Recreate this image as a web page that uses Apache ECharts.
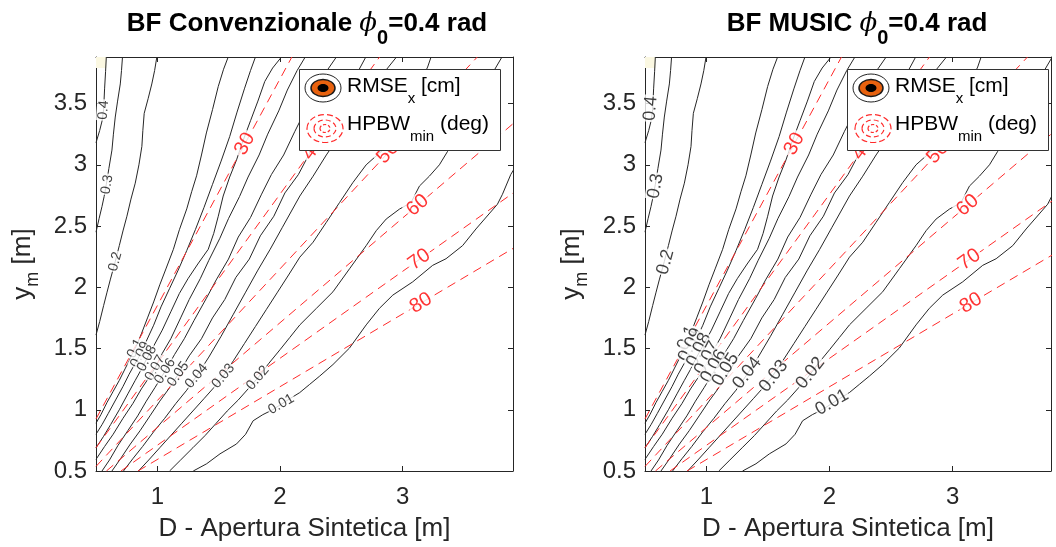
<!DOCTYPE html>
<html>
<head>
<meta charset="UTF-8">
<script src="https://cdn.jsdelivr.net/npm/echarts@6.0.0/dist/echarts.min.js"></script>
<style>
  html, body { margin: 0; padding: 0; background: #fff; }
  #main { width: 1056px; height: 547px; }
</style>
<title>BF vs MUSIC</title>
</head>
<body>
<div id="main"></div>
<script type="text/javascript">
// RMSE_x contour lines [D, y_m] (same field in both panels)
var c040 = [[0.584,3.88],[0.578,3.76],[0.570,3.62],[0.562,3.45],[0.550,3.36],[0.530,3.28],[0.5,3.18]];
var c030 = [[0.716,3.88],[0.708,3.77],[0.698,3.66],[0.676,3.52],[0.657,3.39],[0.642,3.25],[0.63,3.12],[0.605,2.97],[0.584,2.84],[0.566,2.74],[0.549,2.66],[0.525,2.56],[0.5,2.45]];
var c020 = [[0.996,3.88],[0.978,3.77],[0.955,3.66],[0.925,3.54],[0.893,3.42],[0.882,3.28],[0.874,3.15],[0.85,3.0],[0.82,2.85],[0.785,2.72],[0.752,2.58],[0.72,2.46],[0.69,2.34],[0.657,2.21],[0.616,2.06],[0.59,1.96],[0.562,1.85],[0.53,1.72],[0.5,1.61]];
var c010 = [[0.5,0.89],[0.54,0.96],[0.59,1.06],[0.64,1.15],[0.69,1.24],[0.74,1.34],[0.78,1.42],[0.82,1.50],[0.87,1.62],[0.92,1.75],[0.97,1.88],[1.02,2.02],[1.07,2.15],[1.131,2.31],[1.18,2.47],[1.24,2.64],[1.28,2.78],[1.32,2.91],[1.36,3.08],[1.40,3.26],[1.45,3.45],[1.497,3.64],[1.54,3.78],[1.578,3.88]];
var c009 = [[0.5,0.80],[0.55,0.88],[0.60,0.97],[0.66,1.08],[0.72,1.19],[0.77,1.29],[0.82,1.38],[0.86,1.45],[0.91,1.56],[0.97,1.69],[1.03,1.84],[1.10,1.99],[1.17,2.14],[1.24,2.30],[1.31,2.47],[1.38,2.65],[1.45,2.84],[1.52,3.03],[1.59,3.23],[1.65,3.43],[1.71,3.62],[1.76,3.77],[1.80,3.88]];
var c008 = [[0.5,0.69],[0.56,0.78],[0.62,0.88],[0.69,1.00],[0.76,1.13],[0.82,1.24],[0.87,1.33],[0.915,1.42],[0.97,1.52],[1.04,1.65],[1.11,1.80],[1.18,1.95],[1.25,2.07],[1.33,2.19],[1.415,2.31],[1.46,2.44],[1.497,2.58],[1.537,2.745],[1.59,2.90],[1.646,3.04],[1.70,3.20],[1.76,3.36],[1.82,3.52],[1.876,3.68],[1.94,3.79],[2.012,3.88]];
var c007 = [[0.5,0.595],[0.57,0.70],[0.64,0.80],[0.72,0.93],[0.80,1.05],[0.87,1.17],[0.93,1.26],[0.982,1.34],[1.04,1.46],[1.11,1.58],[1.19,1.75],[1.26,1.90],[1.35,2.07],[1.42,2.22],[1.51,2.40],[1.58,2.56],[1.67,2.74],[1.74,2.90],[1.83,3.08],[1.90,3.25],[1.99,3.44],[2.06,3.61],[2.14,3.77],[2.206,3.88]];
var c006 = [[0.549,0.5],[0.61,0.59],[0.68,0.71],[0.76,0.83],[0.84,0.95],[0.91,1.07],[0.98,1.18],[1.063,1.315],[1.14,1.45],[1.22,1.58],[1.30,1.73],[1.40,1.91],[1.48,2.06],[1.58,2.23],[1.66,2.41],[1.76,2.57],[1.85,2.76],[1.93,2.92],[2.03,3.08],[2.12,3.27],[2.20,3.43],[2.30,3.59],[2.37,3.75],[2.46,3.88]];
var c005 = [[0.63,0.5],[0.70,0.60],[0.78,0.72],[0.86,0.83],[0.94,0.95],[1.02,1.07],[1.10,1.18],[1.17,1.29],[1.26,1.44],[1.36,1.58],[1.45,1.75],[1.55,1.90],[1.64,2.08],[1.75,2.23],[1.84,2.42],[1.95,2.58],[2.04,2.77],[2.15,2.92],[2.25,3.11],[2.34,3.28],[2.45,3.45],[2.54,3.63],[2.63,3.75],[2.70,3.88]];
var c004 = [[0.724,0.5],[0.80,0.60],[0.88,0.70],[0.97,0.82],[1.06,0.93],[1.15,1.05],[1.24,1.16],[1.32,1.275],[1.42,1.43],[1.52,1.60],[1.62,1.78],[1.72,1.96],[1.82,2.14],[1.92,2.31],[2.02,2.49],[2.162,2.745],[2.27,2.907],[2.378,3.08],[2.48,3.23],[2.58,3.38],[2.68,3.52],[2.78,3.66],[2.87,3.78],[2.95,3.88]];
var c003 = [[0.846,0.5],[0.93,0.59],[1.02,0.69],[1.11,0.79],[1.20,0.89],[1.29,0.99],[1.38,1.09],[1.46,1.18],[1.537,1.275],[1.62,1.40],[1.71,1.54],[1.80,1.68],[1.89,1.82],[1.98,1.96],[2.07,2.10],[2.162,2.246],[2.27,2.368],[2.378,2.53],[2.486,2.692],[2.594,2.854],[2.703,3.0],[2.838,3.12],[2.94,3.29],[3.04,3.47],[3.13,3.64],[3.204,3.798],[3.232,3.88]];
var c002 = [[1.10,0.5],[1.19,0.59],[1.29,0.69],[1.39,0.79],[1.48,0.89],[1.57,0.99],[1.66,1.08],[1.74,1.17],[1.82,1.26],[1.91,1.38],[2.0,1.49],[2.08,1.59],[2.162,1.693],[2.297,1.828],[2.432,1.963],[2.568,2.152],[2.703,2.34],[2.785,2.462],[2.866,2.557],[2.974,2.638],[3.069,2.692],[3.137,2.826],[3.218,2.907],[3.30,3.0],[3.367,3.11],[3.47,3.29],[3.57,3.47],[3.66,3.63],[3.74,3.76],[3.81,3.88]];
var c001 = [[1.293,0.5],[1.402,0.559],[1.511,0.64],[1.646,0.721],[1.72,0.80],[1.781,0.91],[1.86,0.96],[1.94,1.00],[2.01,1.045],[2.08,1.09],[2.161,1.14],[2.242,1.207],[2.324,1.275],[2.432,1.369],[2.567,1.504],[2.703,1.693],[2.811,1.828],[2.92,1.936],[3.082,2.044],[3.245,2.179],[3.354,2.233],[3.489,2.34],[3.598,2.476],[3.773,2.678],[3.814,2.759],[3.882,2.921],[3.93,3.0]];

var contourLevels = ['0.4','0.3','0.2','0.1','0.09','0.08','0.07','0.06','0.05','0.04','0.03','0.02','0.01'];
var contourLines = [c040, c030, c020, c010, c009, c008, c007, c006, c005, c004, c003, c002, c001];

// inline label anchors for each level
var bfLabelPos = [[0.562,3.447],[0.59,2.84],[0.657,2.21],[0.82,1.50],[0.86,1.45],[0.915,1.42],[0.982,1.34],[1.063,1.315],[1.17,1.29],[1.32,1.275],[1.537,1.275],[1.82,1.26],[2.01,1.045]];
var bfLabelRot = [85,80,75,62,62,62,60,58,55,50,50,50,30];
var musicLabelPos = [[0.545,3.46],[0.586,2.826],[0.667,2.206],[0.843,1.585],[0.87,1.53],[0.937,1.49],[1.005,1.423],[1.059,1.356],[1.154,1.328],[1.33,1.30],[1.546,1.275],[1.844,1.30],[2.02,1.059]];
var musicLabelRot = [85,80,75,65,65,65,62,60,58,52,52,52,30];

// HPBW_min iso-lines (deg): straight lines, end points on the frame
var hpbwLevels = ['30','40','50','60','70','80'];
var hpbwEnds = [
  [[0.5,0.925],[2.097,3.88]],
  [[0.5,0.69],[2.812,3.88]],
  [[0.5,0.5375],[3.609,3.88]],
  [[0.585,0.5],[3.9,3.335]],
  [[0.704,0.5],[3.9,2.769]],
  [[0.842,0.5],[3.9,2.317]]
];
var hpbwLabelPos = [[1.714,3.17],[2.27,3.13],[2.88,3.10],[3.123,2.67],[3.137,2.227],[3.15,1.871]];
var hpbwLabelRot = [61.6,54,47,40.5,35.4,30.7];

var xTicks = [1, 2, 3];
var yTicks = [0.5, 1, 1.5, 2, 2.5, 3, 3.5];

var FONT = '"Liberation Sans", Arial, Helvetica, sans-serif';
var INK = '#262626';
var RED = '#ff2a2a';

var panels = [
  { grid: {left: 96, top: 57, width: 417, height: 417}, xMax: 3.9, title: 'BF Convenzionale ', tx: 307, labels: bfLabelPos, rot: bfLabelRot, lsize: 14, legendX: 299 },
  { grid: {left: 645, top: 57, width: 406, height: 417}, xMax: 3.8, title: 'BF MUSIC ', tx: 857, labels: musicLabelPos, rot: musicLabelRot, lsize: 18, legendX: 847 }
];

var grids = [], xAxes = [], yAxes = [], series = [], graphics = [];

panels.forEach(function (p, k) {
  grids.push(p.grid);
  var tickStyle = { show: true, inside: true, length: 5, lineStyle: { color: INK, width: 1 } };
  var lineStyleAx = { show: true, onZero: false, lineStyle: { color: INK, width: 1 } };
  xAxes.push({
    type: 'value', gridIndex: k, min: 0.5, max: p.xMax, position: 'bottom',
    axisLine: lineStyleAx,
    axisTick: Object.assign({ customValues: xTicks }, tickStyle),
    axisLabel: { customValues: xTicks, color: INK, fontSize: 24, fontFamily: FONT, margin: 14 },
    splitLine: { show: false },
    name: 'D - Apertura Sintetica [m]', nameLocation: 'middle', nameGap: 45,
    nameTextStyle: { color: INK, fontSize: 26, fontFamily: FONT }
  });
  xAxes.push({
    type: 'value', gridIndex: k, min: 0.5, max: p.xMax, position: 'top',
    axisLine: lineStyleAx,
    axisTick: Object.assign({ customValues: xTicks }, tickStyle),
    axisLabel: { show: false }, splitLine: { show: false }
  });
  yAxes.push({
    type: 'value', gridIndex: k, min: 0.5, max: 3.88, position: 'left',
    axisLine: lineStyleAx,
    axisTick: Object.assign({ customValues: yTicks }, tickStyle),
    axisLabel: { customValues: yTicks, color: INK, fontSize: 24, fontFamily: FONT, margin: 9 },
    splitLine: { show: false },
    name: '{n|y}{s|m}{n| [m]}', nameLocation: 'middle', nameGap: 54, nameRotate: 90,
    nameTextStyle: {
      color: INK,
      rich: {
        n: { fontSize: 26, fontFamily: FONT, color: INK },
        s: { fontSize: 18, fontFamily: FONT, color: INK, padding: [20, 0, 0, 0] }
      }
    }
  });
  yAxes.push({
    type: 'value', gridIndex: k, min: 0.5, max: 3.88, position: 'right',
    axisLine: lineStyleAx,
    axisTick: Object.assign({ customValues: yTicks }, tickStyle),
    axisLabel: { show: false }, splitLine: { show: false }
  });

  var xi = 2 * k, yi = 2 * k;

  // pale patch in the top-left corner
  series.push({
    type: 'line', xAxisIndex: xi, yAxisIndex: yi, data: [], silent: true,
    markArea: { silent: true, itemStyle: { color: '#fbf8e2' }, data: [[{ coord: [0.5, 3.79] }, { coord: [0.585, 3.88] }]] }
  });

  contourLines.forEach(function (pts) {
    series.push({
      type: 'line', xAxisIndex: xi, yAxisIndex: yi, data: pts, symbol: 'none',
      lineStyle: { color: INK, width: 1 }, silent: true, z: 2
    });
  });
  hpbwEnds.forEach(function (pts) {
    series.push({
      type: 'line', xAxisIndex: xi, yAxisIndex: yi, data: pts, symbol: 'none',
      lineStyle: { color: RED, width: 1, type: [9, 6] }, silent: true, z: 3
    });
  });
  series.push({
    type: 'scatter', xAxisIndex: xi, yAxisIndex: yi, symbolSize: 1, silent: true, z: 5,
    itemStyle: { color: 'rgba(0,0,0,0)' },
    data: p.labels.map(function (v, i) {
      return { name: contourLevels[i], value: v, label: { rotate: p.rot[i] } };
    }),
    label: { show: true, position: 'inside', formatter: '{b}', color: '#111', fontSize: p.lsize, fontFamily: FONT, backgroundColor: '#fff', padding: [0, 1] }
  });
  series.push({
    type: 'scatter', xAxisIndex: xi, yAxisIndex: yi, symbolSize: 1, silent: true, z: 6,
    itemStyle: { color: 'rgba(0,0,0,0)' },
    data: hpbwLabelPos.map(function (v, i) {
      return { name: hpbwLevels[i], value: v, label: { rotate: hpbwLabelRot[i] } };
    }),
    label: { show: true, position: 'inside', formatter: '{b}', color: '#ff0000', fontSize: 20, fontFamily: FONT, backgroundColor: '#fff', padding: [0, 2] }
  });

  // title
  graphics.push({
    type: 'text', x: p.tx, y: 24, z: 100,
    style: {
      text: '{b|' + p.title + '}{p|ϕ}{s|0}{b|=0.4 rad}',
      align: 'center', verticalAlign: 'middle',
      rich: {
        b: { fontSize: 26, fontWeight: 'bold', fontFamily: FONT, fill: '#000' },
        p: { fontSize: 26, fontStyle: 'italic', fontFamily: '"DejaVu Serif", serif', fill: '#000' },
        s: { fontSize: 20, fontWeight: 'bold', fontFamily: FONT, fill: '#000', padding: [28, 0, 0, 0] }
      }
    }
  });

  // legend box
  var lx = p.legendX;
  graphics.push({
    type: 'group', z: 100,
    children: [
      { type: 'rect', z: 100, shape: { x: lx + 0.5, y: 69.5, width: 201, height: 81 }, style: { fill: '#fff', stroke: '#333', lineWidth: 1 } },
      { type: 'ellipse', z: 101, shape: { cx: lx + 24, cy: 88, rx: 18, ry: 14 }, style: { fill: '#fff', stroke: '#222', lineWidth: 1 } },
      { type: 'ellipse', z: 101, shape: { cx: lx + 24, cy: 88, rx: 12, ry: 8.5 }, style: { fill: '#e8620f', stroke: '#1a1a1a', lineWidth: 1.5 } },
      { type: 'ellipse', z: 102, shape: { cx: lx + 24, cy: 88, rx: 5.5, ry: 4 }, style: { fill: '#000' } },
      { type: 'ellipse', z: 101, shape: { cx: lx + 26, cy: 128.5, rx: 18, ry: 14 }, style: { fill: 'none', stroke: RED, lineWidth: 1.2, lineDash: [6, 3] } },
      { type: 'ellipse', z: 101, shape: { cx: lx + 26, cy: 128.5, rx: 11, ry: 8.5 }, style: { fill: 'none', stroke: RED, lineWidth: 1.2, lineDash: [5, 3] } },
      { type: 'ellipse', z: 101, shape: { cx: lx + 26, cy: 128.5, rx: 5, ry: 4 }, style: { fill: 'none', stroke: RED, lineWidth: 1.2, lineDash: [3, 2] } },
      {
        type: 'text', z: 102, x: lx + 48, y: 86,
        style: {
          text: '{a|RMSE}{s|x}{a| [cm]}', align: 'left', verticalAlign: 'middle',
          rich: {
            a: { fontSize: 21, fontFamily: FONT, fill: '#000' },
            s: { fontSize: 15, fontFamily: FONT, fill: '#000', padding: [26, 0, 0, 0] }
          }
        }
      },
      {
        type: 'text', z: 102, x: lx + 48, y: 124,
        style: {
          text: '{a|HPBW}{s|min}{a| (deg)}', align: 'left', verticalAlign: 'middle',
          rich: {
            a: { fontSize: 21, fontFamily: FONT, fill: '#000' },
            s: { fontSize: 15, fontFamily: FONT, fill: '#000', padding: [26, 0, 0, 0] }
          }
        }
      }
    ]
  });
});

var myChart = echarts.init(document.getElementById('main'));
myChart.setOption({
  animation: false,
  backgroundColor: '#fff',
  grid: grids,
  xAxis: xAxes,
  yAxis: yAxes,
  series: series,
  graphic: graphics
});
</script>
</body>
</html>
